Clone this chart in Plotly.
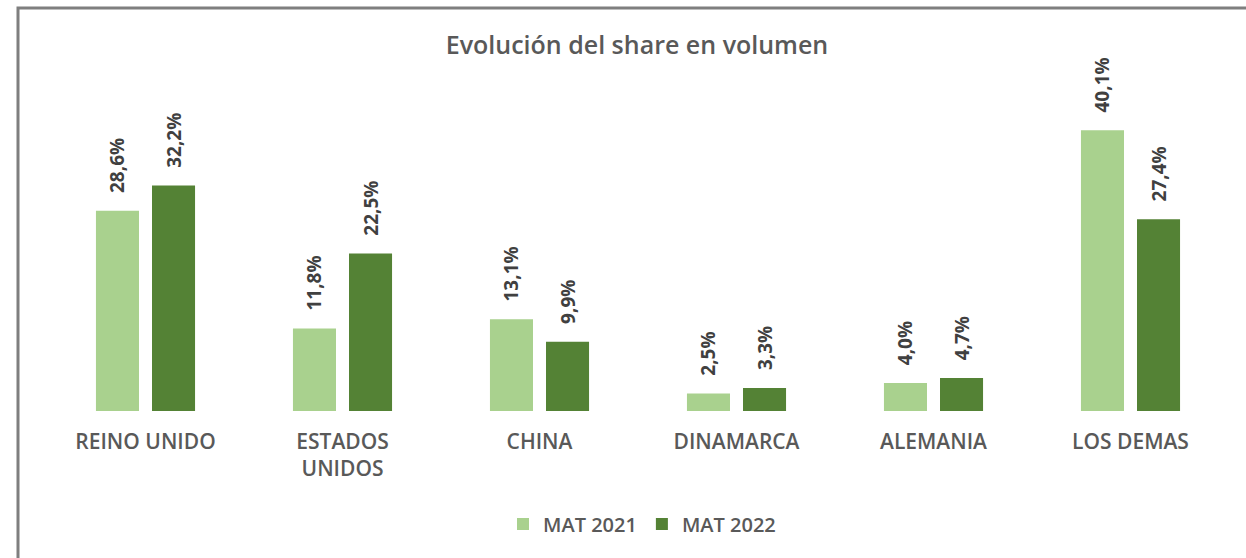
import plotly.graph_objects as go

categories = ["REINO UNIDO", "ESTADOS<br>UNIDOS", "CHINA", "DINAMARCA", "ALEMANIA", "LOS DEMAS"]
mat_2021 = [28.6, 11.8, 13.1, 2.5, 4.0, 40.1]
mat_2022 = [32.2, 22.5, 9.9, 3.3, 4.7, 27.4]
series_names = ["MAT 2021", "MAT 2022"]
colors = ["#A9D18E", "#548235"]

W, H = 1246, 558
L, T = 47, 96
pw, ph = 1182, 315
R = W - L - pw
B = H - T - ph

font_family = "Open Sans, DejaVu Sans, sans-serif"
label_font = dict(family=font_family, size=19, color="#404040", weight="bold")

fig = go.Figure()
for name, vals, col in zip(series_names, [mat_2021, mat_2022], colors):
    fig.add_trace(go.Bar(
        x=categories, y=vals, name=name, marker=dict(color=col, line=dict(width=0)),
        texttemplate="\u00a0\u00a0\u00a0%{y:.1f}%", textposition="outside", textangle=-90,
        textfont=label_font, cliponaxis=False, constraintext="none",
    ))

# frame
fx0 = (18 - L) / pw
fy1 = (T + ph - 8) / ph
fig.add_shape(type="rect", xref="paper", yref="paper", x0=fx0, x1=1.2, y0=-1.0, y1=fy1,
              line=dict(color="#7F7F7F", width=3), fillcolor="rgba(0,0,0,0)", layer="below")

fig.update_layout(
    width=W, height=H,
    margin=dict(l=L, r=R, t=T, b=B, autoexpand=False),
    paper_bgcolor="white", plot_bgcolor="white",
    separators=",.",
    barmode="group", bargap=0.431, bargroupgap=0.232,
    uniformtext=dict(minsize=19, mode="show"),
    title=dict(text="Evolución del share en volumen", x=637 / W, xanchor="center",
               y=1 - 45 / H, yanchor="middle", yref="container", xref="container",
               font=dict(family=font_family, size=25, color="#595959", weight=600)),
    xaxis=dict(showgrid=False, showline=False, zeroline=False, ticks="",
               ticklabelstandoff=16,
               tickfont=dict(family=font_family, size=21, color="#595959", weight=600)),
    yaxis=dict(visible=False, range=[0, 45], showgrid=False, zeroline=False),
    legend=dict(orientation="h", x=(642 - L) / pw, xanchor="center", xref="paper",
                y=1 - 524 / H, yanchor="middle", yref="container",
                font=dict(family=font_family, size=20, color="#595959", weight=600),
                itemsizing="constant", traceorder="normal"),
    showlegend=True,
)

fig.write_html("out.html", config={"displayModeBar": False},
               post_script="document.body.style.margin='0';document.body.style.overflow='hidden';")
